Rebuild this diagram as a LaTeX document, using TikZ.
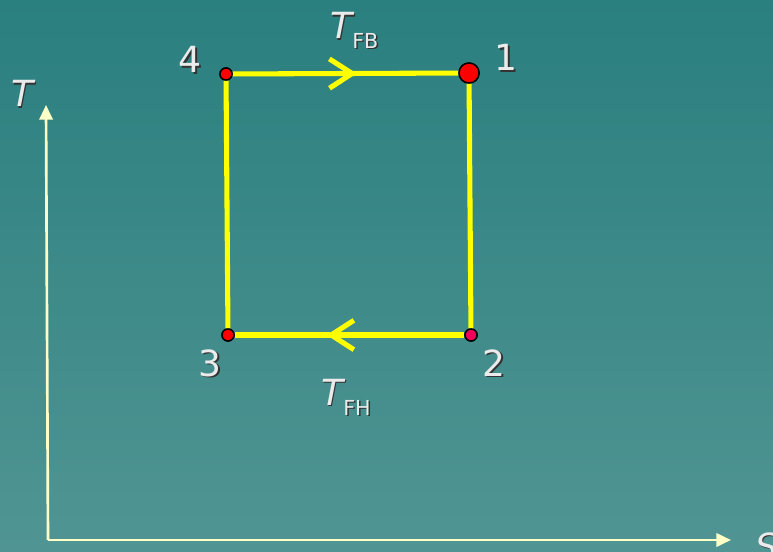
\documentclass[tikz,border=0pt]{standalone}
\usepackage{fontspec}
\setmainfont{DejaVu Sans}
\usetikzlibrary{arrows.meta,decorations.markings}
\definecolor{bgtop}{RGB}{42,127,127}
\definecolor{bgbot}{RGB}{80,149,147}
\definecolor{axiscol}{RGB}{255,255,200}
\definecolor{cyclecol}{RGB}{255,255,0}
\definecolor{pinkred}{RGB}{240,0,90}
\newcommand{\shtx}[1]{\makebox[0pt][l]{\hspace{1.2pt}\raisebox{-1.2pt}{\color{black!80}#1}}#1}
\begin{document}
\begin{tikzpicture}[x=0.75pt, y=-0.75pt,
  every node/.style={font=\fontsize{27}{27}\selectfont, text=white!92!black, inner sep=0pt},
  state/.style={circle, draw=black, line width=1.1pt, fill=red, minimum size=9pt},
  cycleline/.style={line width=3.8pt, cyclecol},
  midarrow/.style={postaction={decorate, decoration={markings,
     mark=at position #1 with {\arrow{Straight Barb[length=17pt, width=22pt]}}}}},
  axisline/.style={line width=2pt, axiscol, -{Triangle[length=11pt, width=10pt]}}]
\shade[top color=bgtop, bottom color=bgbot] (0,0) rectangle (773,552);
\useasboundingbox (0,0) rectangle (773,552);

% axes
\coordinate (o) at (48,540);
\coordinate (ttop) at (46,105);
\coordinate (send) at (731,540);
\draw[axisline] (o) -- (ttop);
\draw[axisline] (o) -- (send);
\node[anchor=base west] (taxis) at (11,107) {\shtx{\itshape T}};
\node[anchor=base west] (saxis) at (755,559) {\shtx{\itshape S}};

% states of the cycle
\node[state, minimum size=15pt] (n1) at (469,73) {};
\node[state, fill=pinkred] (n2) at (471,335) {};
\node[state] (n3) at (228,335) {};
\node[state] (n4) at (226,74) {};

\draw[cycleline, midarrow=0.55] (n4) -- (n1);
\draw[cycleline] (n1) -- (n2);
\draw[cycleline, midarrow=0.6] (n2) -- (n3);
\draw[cycleline] (n3) -- (n4);
% redraw the points over the lines
\node[state, minimum size=15pt] at (n1) {};
\node[state, fill=pinkred] at (n2) {};
\node[state] at (n3) {};
\node[state] at (n4) {};

\node[anchor=base] (l1) at (506,71) {\shtx{1}};
\node[anchor=base] (l2) at (494,376) {\shtx{2}};
\node[anchor=base] (l3) at (210,376) {\shtx{3}};
\node[anchor=base] (l4) at (190,73) {\shtx{4}};

\node[anchor=base west] (tfb) at (330,39) {\shtx{\itshape T}\raisebox{-7pt}{\fontsize{15.5}{15.5}\selectfont\upshape\shtx{FB}}};
\node[anchor=base west] (tfh) at (321,405) {\shtx{\itshape T}\raisebox{-7.5pt}{\fontsize{15.5}{15.5}\selectfont\upshape\shtx{FH}}};
\end{tikzpicture}
\end{document}
